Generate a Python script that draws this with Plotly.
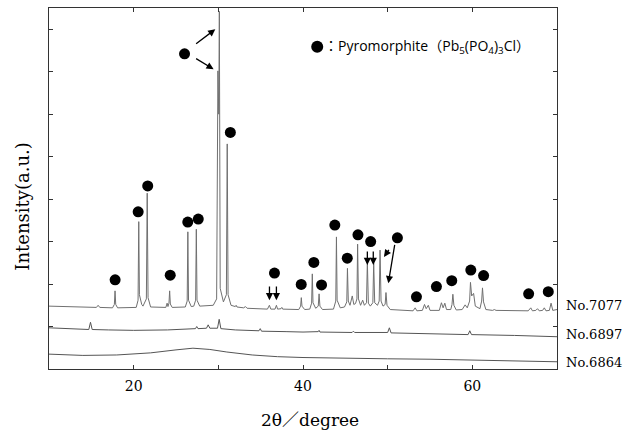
import plotly.graph_objects as go

# ---------------- data ----------------
# No.7077 pattern vertices (2theta, intensity a.u.)
X7077 = [10.0, 12.0, 14.0, 15.6, 15.8, 16.0, 17.5, 17.72, 17.8, 17.88, 18.1,
         20.3, 20.52, 20.6, 20.68, 20.95, 21.1, 21.5, 21.6, 21.7, 22.0,
         23.8, 23.95, 24.05, 24.17, 24.25, 24.33, 24.55,
         26.1, 26.32, 26.4, 26.48, 26.8, 27.1, 27.32, 27.4, 27.48, 27.8,
         29.4, 29.8, 29.95, 30.05, 30.12, 30.22, 30.6, 30.95, 31.05, 31.15, 31.5,
         32.0, 32.1, 32.2, 33.0, 33.2, 33.4,
         35.8, 36.03, 36.2, 36.7, 36.86, 37.0, 37.4, 37.5, 37.6,
         39.5, 39.72, 39.8, 39.88, 40.2, 40.8, 41.02, 41.1, 41.18, 41.5,
         41.8, 41.9, 42.0, 42.3, 43.6, 43.87, 43.95, 44.03, 44.4,
         44.9, 45.17, 45.25, 45.35, 45.55, 45.82, 46.0, 46.2, 46.37, 46.45, 46.55,
         46.8, 47.05, 47.25, 47.5, 47.6, 47.72, 47.95, 48.25, 48.35, 48.47,
         48.8, 49.0, 49.1, 49.22, 49.45, 49.7, 49.8, 49.92, 50.3,
         51.5, 53.0, 53.25, 53.45, 54.1, 54.35, 54.55, 54.8, 55.0,
         56.1, 56.35, 56.55, 56.75, 56.95, 57.45, 57.6, 57.7, 57.82, 58.1,
         58.8, 59.15, 59.4, 59.68, 59.78, 59.92, 60.15, 60.35, 60.9,
         61.1, 61.2, 61.32, 61.6, 62.4, 62.6, 62.8,
         66.6, 66.9, 67.1, 67.5, 67.7, 67.9, 68.3, 68.5, 68.7, 69.1, 69.3, 69.5, 70.0]
Y7077 = [1.48, 1.47, 1.46, 1.45, 1.50, 1.45, 1.44, 1.52, 1.84, 1.52, 1.44,
         1.45, 1.62, 3.47, 1.75, 1.52, 1.48, 1.65, 4.14, 1.68, 1.46,
         1.45, 1.55, 1.47, 1.55, 1.84, 1.53, 1.45,
         1.46, 1.60, 3.23, 1.62, 1.47, 1.48, 1.62, 3.29, 1.62, 1.48,
         1.50, 1.65, 7.02, 6.00, 8.42, 1.90, 1.58, 1.75, 5.30, 1.75, 1.50,
         1.47, 1.50, 1.46, 1.44, 1.47, 1.43,
         1.41, 1.50, 1.41, 1.41, 1.50, 1.41, 1.42, 1.45, 1.41,
         1.40, 1.48, 1.68, 1.48, 1.40, 1.41, 1.55, 2.24, 1.56, 1.43,
         1.48, 1.77, 1.48, 1.40, 1.41, 1.60, 3.11, 1.62, 1.44,
         1.46, 1.58, 2.37, 1.60, 1.50, 1.72, 1.52, 1.54, 1.65, 2.94, 1.65,
         1.50, 1.62, 1.50, 1.56, 2.53, 1.55, 1.48, 1.56, 2.50, 1.56,
         1.50, 1.60, 2.80, 1.60, 1.48, 1.52, 1.80, 1.50, 1.40,
         1.38, 1.37, 1.44, 1.37, 1.38, 1.52, 1.42, 1.50, 1.38,
         1.38, 1.56, 1.44, 1.55, 1.40, 1.40, 1.52, 1.76, 1.50, 1.39,
         1.40, 1.51, 1.44, 1.60, 2.04, 1.72, 1.78, 1.48, 1.42,
         1.60, 1.91, 1.58, 1.40, 1.38, 1.40, 1.38,
         1.37, 1.44, 1.37, 1.38, 1.42, 1.37, 1.38, 1.44, 1.37, 1.38, 1.55, 1.38, 1.40]

# No.6897 pattern vertices
X6897 = [10.0, 12.0, 14.7, 14.9, 15.1, 17.0, 20.0, 24.0, 27.3, 27.45, 27.6,
         28.6, 28.8, 29.0, 29.9, 30.1, 30.3, 32.0, 34.8, 34.95, 35.1, 38.0,
         40.0, 41.8, 41.9, 42.0, 45.8, 45.95, 46.1, 50.0, 50.2, 50.4, 55.0,
         59.5, 59.7, 59.9, 65.0, 70.0]
Y6897 = [0.97, 0.95, 0.93, 1.10, 0.93, 0.92, 0.91, 0.92, 0.95, 1.00, 0.95,
         0.96, 1.04, 0.96, 0.96, 1.17, 0.95, 0.92, 0.90, 0.95, 0.89, 0.88,
         0.87, 0.88, 0.91, 0.87, 0.86, 0.89, 0.86, 0.86, 0.97, 0.85, 0.83,
         0.81, 0.90, 0.81, 0.79, 0.76]

# No.6864 pattern vertices (amorphous hump)
X6864 = [10.0, 14.0, 18.0, 22.0, 25.0, 27.0, 29.0, 31.0, 34.0, 37.0, 40.0,
         45.0, 50.0, 55.0, 60.0, 65.0, 70.0]
Y6864 = [0.35, 0.32, 0.33, 0.38, 0.45, 0.49, 0.46, 0.40, 0.33, 0.29, 0.27,
         0.25, 0.24, 0.23, 0.21, 0.19, 0.17]

SAMPLE_NAMES = ["No.7077", "No.6897", "No.6864"]
SAMPLE_LABEL_Y = [1.50, 0.82, 0.16]

# Pyromorphite peak markers (filled circles)
DOT_X = [17.81, 20.53, 21.66, 24.32, 26.39, 27.63, 26.01, 31.42, 36.63, 39.79,
         41.28, 42.19, 43.76, 45.23, 46.49, 47.99, 51.15, 53.40, 55.76, 57.57,
         59.82, 61.33, 66.65, 68.97]
DOT_Y = [2.10, 3.70, 4.31, 2.21, 3.46, 3.53, 7.42, 5.57, 2.26, 1.99,
         2.51, 1.98, 3.39, 2.61, 3.16, 3.00, 3.09, 1.70, 1.94, 2.08,
         2.33, 2.20, 1.77, 1.82]

# arrows: tail (x, y) -> head (x, y)
ARROW_TAIL_X = [27.20, 27.20, 36.04, 36.86, 47.60, 48.30, 50.27, 50.86]
ARROW_TAIL_Y = [7.63, 7.33, 1.98, 1.98, 2.80, 2.80, 2.84, 2.96]
ARROW_HEAD_X = [29.64, 29.44, 36.04, 36.86, 47.60, 48.30, 49.56, 50.08]
ARROW_HEAD_Y = [8.00, 7.06, 1.62, 1.62, 2.45, 2.45, 2.64, 2.02]

LEGEND_DOT = (41.68, 7.59)
LEGEND_TEXT = "：Pyromorphite（Pb<sub>5</sub>(PO<sub>4</sub>)<sub>3</sub>Cl）"

X_RANGE = [10, 70]
X_MAJOR_TICKS = [20, 40, 60]
X_MINOR_TICKS = [30, 50]
Y_TICKS = [1, 2, 3, 4, 5, 6, 7, 8]

# ---------------- figure ----------------
SERIF = "DejaVu Serif, Liberation Serif, Noto Sans CJK JP, serif"
SANS = "Open Sans, Noto Sans, Noto Sans CJK JP, sans-serif"
AXC = "#333333"

fig = go.Figure()
fig.add_trace(go.Scatter(x=X6864, y=Y6864, mode="lines",
                         line=dict(color="#555555", width=1), hoverinfo="skip"))
fig.add_trace(go.Scatter(x=X6897, y=Y6897, mode="lines",
                         line=dict(color="#555555", width=1), hoverinfo="skip"))
fig.add_trace(go.Scatter(x=X7077, y=Y7077, mode="lines",
                         line=dict(color="#707070", width=1), hoverinfo="skip"))
fig.add_trace(go.Scatter(x=DOT_X, y=DOT_Y, mode="markers",
                         marker=dict(color="black", size=11, line=dict(width=0)),
                         hoverinfo="skip"))
fig.add_trace(go.Scatter(x=[LEGEND_DOT[0]], y=[LEGEND_DOT[1]], mode="markers",
                         marker=dict(color="black", size=12, line=dict(width=0)),
                         hoverinfo="skip"))
# invisible trace so the unlabeled-tick overlay axis is drawn
fig.add_trace(go.Scatter(x=X_RANGE, y=[None, None], xaxis="x2", mode="lines",
                         hoverinfo="skip", showlegend=False))

annotations = []
for tx, ty, hx, hy in zip(ARROW_TAIL_X, ARROW_TAIL_Y, ARROW_HEAD_X, ARROW_HEAD_Y):
    annotations.append(dict(x=hx, y=hy, ax=tx, ay=ty, xref="x", yref="y",
                            axref="x", ayref="y", text="", showarrow=True,
                            arrowhead=2, arrowsize=1.1, arrowwidth=1.3,
                            arrowcolor="black", standoff=0, startstandoff=0))

for name, ly in zip(SAMPLE_NAMES, SAMPLE_LABEL_Y):
    annotations.append(dict(x=1.014, y=ly, xref="paper", yref="y", text=name,
                            showarrow=False, xanchor="left", yanchor="middle",
                            font=dict(family=SERIF, size=13, color="black")))

annotations.append(dict(x=LEGEND_DOT[0] + 0.55, y=LEGEND_DOT[1], xref="x", yref="y",
                        text=LEGEND_TEXT, showarrow=False, xanchor="left",
                        yanchor="middle",
                        font=dict(family=SANS, size=14, color="black")))

annotations.append(dict(x=0.513, y=-0.141, xref="paper", yref="paper",
                        text="2θ／degree", showarrow=False, xanchor="center",
                        yanchor="middle",
                        font=dict(family=SERIF, size=17, color="black")))
annotations.append(dict(x=-0.053, y=0.45, xref="paper", yref="paper",
                        text="Intensity(a.u.)", showarrow=False, textangle=-90,
                        xanchor="center", yanchor="middle",
                        font=dict(family=SERIF, size=18, color="black")))

fig.update_layout(
    width=630, height=432,
    margin=dict(l=49, r=73, t=8, b=63),
    paper_bgcolor="white", plot_bgcolor="white",
    showlegend=False,
    annotations=annotations,
    xaxis=dict(range=X_RANGE, tickvals=X_MAJOR_TICKS,
               ticks="inside", ticklen=4, tickcolor=AXC,
               showline=True, linecolor=AXC, linewidth=1, mirror="ticks",
               showgrid=False, zeroline=False, ticklabelstandoff=4,
               tickfont=dict(family=SERIF, size=14, color="black")),
    xaxis2=dict(range=X_RANGE, overlaying="x", side="bottom", anchor="y",
                tickvals=X_MINOR_TICKS, showticklabels=False,
                ticks="inside", ticklen=4, tickcolor=AXC,
                showline=True, linecolor=AXC, linewidth=1, mirror="ticks",
                showgrid=False, zeroline=False),
    yaxis=dict(range=[0, 8.5], tickvals=Y_TICKS, showticklabels=False,
               ticks="inside", ticklen=4, tickcolor=AXC,
               showline=True, linecolor=AXC, linewidth=1, mirror="ticks",
               showgrid=False, zeroline=False),
)

fig.write_html("out.html", post_script="document.body.style.margin='0';",
               config={"displayModeBar": False})
